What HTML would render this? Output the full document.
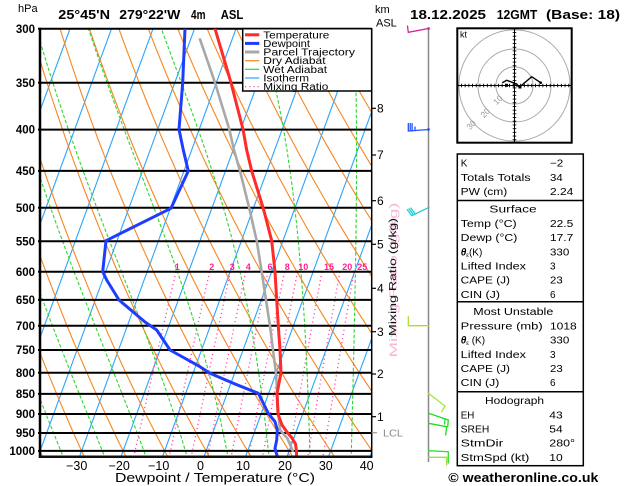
<!DOCTYPE html>
<html><head><meta charset="utf-8">
<style>
html,body{margin:0;padding:0;background:#fff;}
svg{display:block;font-family:"Liberation Sans",sans-serif;}
</style></head>
<body>
<svg id="s" width="629" height="486" viewBox="0 0 629 486" xmlns="http://www.w3.org/2000/svg">
<defs><clipPath id="cp"><rect x="40" y="28.7" width="331.7" height="428"/></clipPath></defs>
<rect x="0" y="0" width="629" height="486" fill="#fff"/>
<g id="grid" clip-path="url(#cp)"></g>

<!-- pressure lines -->
<g stroke="#000" stroke-width="2">
<line x1="38" y1="28.7" x2="371.7" y2="28.7"/>
<line x1="38" y1="82.7" x2="371.7" y2="82.7"/>
<line x1="38" y1="129.6" x2="371.7" y2="129.6"/>
<line x1="38" y1="170.9" x2="371.7" y2="170.9"/>
<line x1="38" y1="207.8" x2="371.7" y2="207.8"/>
<line x1="38" y1="241.3" x2="371.7" y2="241.3"/>
<line x1="38" y1="271.8" x2="371.7" y2="271.8"/>
<line x1="38" y1="299.9" x2="371.7" y2="299.9"/>
<line x1="38" y1="325.8" x2="371.7" y2="325.8"/>
<line x1="38" y1="350.0" x2="371.7" y2="350.0"/>
<line x1="38" y1="372.7" x2="371.7" y2="372.7"/>
<line x1="38" y1="393.9" x2="371.7" y2="393.9"/>
<line x1="38" y1="414.0" x2="371.7" y2="414.0"/>
<line x1="38" y1="433.0" x2="371.7" y2="433.0"/>
<line x1="38" y1="450.9" x2="371.7" y2="450.9"/>
</g>
<g font-size="11.5" font-weight="bold" text-anchor="end" fill="#000">
<text x="35" y="32.8">300</text>
<text x="35" y="86.8">350</text>
<text x="35" y="133.7">400</text>
<text x="35" y="175">450</text>
<text x="35" y="211.9">500</text>
<text x="35" y="245.4">550</text>
<text x="35" y="275.9">600</text>
<text x="35" y="304">650</text>
<text x="35" y="329.9">700</text>
<text x="35" y="354.1">750</text>
<text x="35" y="376.8">800</text>
<text x="35" y="398">850</text>
<text x="35" y="418.1">900</text>
<text x="35" y="437.1">950</text>
<text x="35" y="455">1000</text>
</g>
<text x="18" y="12" font-size="11" fill="#000">hPa</text>

<!-- mixing ratio labels -->
<g font-size="9" font-weight="bold" fill="#ff1f8f" text-anchor="middle">
<text x="177.3" y="270">1</text>
<text x="211.7" y="270">2</text>
<text x="232.3" y="270">3</text>
<text x="248.3" y="270">4</text>
<text x="270" y="270">6</text>
<text x="287.3" y="270">8</text>
<text x="303.3" y="270">10</text>
<text x="329" y="270">15</text>
<text x="347.3" y="270">20</text>
<text x="362.3" y="270">25</text>
</g>

<!-- data series -->
<g clip-path="url(#cp)" fill="none" stroke-linejoin="round" stroke-linecap="round">
<polyline stroke="#a8a8a8" stroke-width="2.6" points="200,39.3 215,82.7 229.3,129.3 234,150 240,171 249.3,208.3 256.7,240.7 261.7,271.7 266,300 270,326 274,358 276,373.3 277.3,393.3 278.3,413.3 280,430 287.3,438.3 291.7,448.3 292.7,450.7"/>
<polyline stroke="#1f3dff" stroke-width="3" points="185,28.7 182.7,82.7 179,129.3 183.3,150 188.3,171 171,208.3 106,240.7 102.7,271.7 106.7,280 119,300 145,322 156.7,330 170,350 200,366.7 210,373.3 233.3,383.3 258.3,393.3 261.7,400 268.3,413.3 275,421.7 277.3,430 276.7,440 275,448.3 277.3,456.7"/>
<polyline stroke="#ff2a2a" stroke-width="3" points="215,28.7 231,82.7 243,129.3 246.7,150 251.7,171 263.3,208.3 271.7,240.7 275,271.7 276.7,300 278.3,326 280,350 281,372.7 277,393.7 278,414 282,425 287,432 292,438 295.5,444 296.5,451 296.5,456.7"/>
</g>

<!-- legend -->
<rect x="242.7" y="28.7" width="129" height="62.3" fill="#fff" stroke="#000" stroke-width="1.5"/>
<g stroke-linecap="butt">
<line x1="245" y1="34.8" x2="259.3" y2="34.8" stroke="#ff2a2a" stroke-width="3"/>
<line x1="245" y1="43.4" x2="259.3" y2="43.4" stroke="#1f3dff" stroke-width="3"/>
<line x1="245" y1="52" x2="259.3" y2="52" stroke="#a8a8a8" stroke-width="3"/>
<line x1="245" y1="60.7" x2="259.3" y2="60.7" stroke="#f7861f" stroke-width="1.2"/>
<line x1="245" y1="69.3" x2="259.3" y2="69.3" stroke="#2fd62f" stroke-width="1.2"/>
<line x1="245" y1="78" x2="259.3" y2="78" stroke="#2aa4ff" stroke-width="1.2"/>
<line x1="245" y1="86.6" x2="259.3" y2="86.6" stroke="#ff4aa8" stroke-width="1.3" stroke-dasharray="1.2,3"/>
</g>
<g font-size="10" fill="#000" lengthAdjust="spacingAndGlyphs">
<text x="263.3" y="38.3" textLength="66" lengthAdjust="spacingAndGlyphs">Temperature</text>
<text x="263.3" y="46.9" textLength="46.7" lengthAdjust="spacingAndGlyphs">Dewpoint</text>
<text x="263.3" y="55.5" textLength="91.7" lengthAdjust="spacingAndGlyphs">Parcel Trajectory</text>
<text x="263.3" y="64.2" textLength="62.3" lengthAdjust="spacingAndGlyphs">Dry Adiabat</text>
<text x="263.3" y="72.8" textLength="63.7" lengthAdjust="spacingAndGlyphs">Wet Adiabat</text>
<text x="263.3" y="81.5" textLength="45.7" lengthAdjust="spacingAndGlyphs">Isotherm</text>
<text x="263.3" y="90" textLength="65" lengthAdjust="spacingAndGlyphs">Mixing Ratio</text>
</g>

<!-- axes -->
<line x1="40" y1="27.7" x2="40" y2="457.8" stroke="#000" stroke-width="2.5"/>
<line x1="38.8" y1="456.7" x2="372.5" y2="456.7" stroke="#111" stroke-width="2.5"/>
<line x1="371.7" y1="28" x2="371.7" y2="457" stroke="#000" stroke-width="1.5"/>

<!-- km ticks -->
<g stroke="#000" stroke-width="1.2">
<line x1="371.7" y1="108.3" x2="376" y2="108.3"/>
<line x1="371.7" y1="155" x2="376" y2="155"/>
<line x1="371.7" y1="200.7" x2="376" y2="200.7"/>
<line x1="371.7" y1="244.3" x2="376" y2="244.3"/>
<line x1="371.7" y1="288.3" x2="376" y2="288.3"/>
<line x1="371.7" y1="331.7" x2="376" y2="331.7"/>
<line x1="371.7" y1="374" x2="376" y2="374"/>
<line x1="371.7" y1="416.7" x2="376" y2="416.7"/>
</g>
<line x1="371.7" y1="432.7" x2="377" y2="432.7" stroke="#999" stroke-width="1.2"/>
<g font-size="12" fill="#000">
<text x="377" y="112.5">8</text>
<text x="377" y="159.2">7</text>
<text x="377" y="204.9">6</text>
<text x="377" y="248.5">5</text>
<text x="377" y="292.5">4</text>
<text x="377" y="335.9">3</text>
<text x="377" y="378.2">2</text>
<text x="377" y="420.9">1</text>
</g>
<text x="383" y="436.5" font-size="10" fill="#8a8a8a" textLength="20" lengthAdjust="spacingAndGlyphs">LCL</text>
<text x="375" y="13" font-size="11" fill="#000">km</text>
<text x="376" y="26.7" font-size="11" fill="#000">ASL</text>

<!-- mixing ratio axis label -->
<text transform="translate(397,280) rotate(-90)" text-anchor="middle" font-size="11" fill="#f6b8d8" textLength="155" lengthAdjust="spacingAndGlyphs">Mixing Ratio (g/kg)</text>
<text transform="translate(396,277) rotate(-90)" text-anchor="middle" font-size="10.5" fill="#111" textLength="118" lengthAdjust="spacingAndGlyphs">Mixing Ratio (g/kg)</text>

<!-- bottom labels -->
<g font-size="12.5" fill="#000" text-anchor="middle">
<text x="76.7" y="470">−30</text>
<text x="119.2" y="470">−20</text>
<text x="158.7" y="470">−10</text>
<text x="200.5" y="470">0</text>
<text x="243" y="470">10</text>
<text x="285" y="470">20</text>
<text x="325.8" y="470">30</text>
<text x="366.7" y="470">40</text>
</g>
<text x="115" y="482" font-size="13" fill="#000" textLength="200" lengthAdjust="spacingAndGlyphs">Dewpoint / Temperature (°C)</text>

<!-- titles -->
<g font-size="12.5" font-weight="bold" fill="#000">
<text x="58.3" y="19" textLength="51.7" lengthAdjust="spacingAndGlyphs">25°45'N</text>
<text x="119.3" y="19" textLength="61" lengthAdjust="spacingAndGlyphs">279°22'W</text>
<text x="191" y="19" textLength="14.5" lengthAdjust="spacingAndGlyphs">4m</text>
<text x="220.7" y="19" textLength="22.6" lengthAdjust="spacingAndGlyphs">ASL</text>
<text x="410" y="19" textLength="76" lengthAdjust="spacingAndGlyphs">18.12.2025</text>
<text x="496.7" y="19" textLength="40.6" lengthAdjust="spacingAndGlyphs">12GMT</text>
<text x="546" y="19" textLength="74" lengthAdjust="spacingAndGlyphs">(Base: 18)</text>
</g>

<!-- wind barbs -->
<line x1="428.5" y1="28" x2="428.5" y2="462" stroke="#888" stroke-width="1.5"/>
<g fill="none" stroke-width="1.3" stroke-linecap="round">
<polyline stroke="#d8229a" points="428.5,28.5 408.3,32.3 407.5,26"/>
<polyline stroke="#2255ff" points="428.5,129.5 408.3,131"/>
<g stroke="#2255ff"><line x1="408.3" y1="131" x2="408.3" y2="123.5"/><line x1="410.2" y1="131" x2="410.2" y2="123.5"/><line x1="412.1" y1="131" x2="412.1" y2="123.5"/><line x1="415" y1="130.6" x2="415" y2="127"/></g>
<polyline stroke="#22cccc" points="429,207.3 411.7,215.7 407.3,209.7"/>
<line stroke="#22cccc" x1="413.5" y1="214.8" x2="409" y2="208.8"/>
<line stroke="#22cccc" x1="415.3" y1="214" x2="410.8" y2="208"/>
<polyline stroke="#aadd33" points="429,325.7 408.3,325.7 408.3,316.7"/>
<polyline stroke="#a6e83a" points="428.5,393.3 445,406 441.7,411.7"/>
<polyline stroke="#22dd22" points="428.5,413.3 448.3,420 447.7,426.7"/>
<line stroke="#22dd22" x1="445" y1="419" x2="444.6" y2="424"/>
<polyline stroke="#22dd22" points="428.5,423.3 446.7,426.7 445.7,435"/>
<polyline stroke="#33dd33" points="428.5,450.7 448.3,451.7 448.3,463"/>
<polyline stroke="#99e03a" points="428.5,457.3 446.7,457.3 446.7,465"/>
</g>
<g fill="#2255ff"><circle cx="428.5" cy="129.5" r="1.4"/></g>
<circle cx="428.5" cy="28.5" r="1.4" fill="#d8229a"/>

<!-- hodograph -->
<g fill="none">
<circle cx="514.5" cy="85.5" r="18.6" stroke="#aaa" stroke-width="1"/>
<circle cx="514.5" cy="85.5" r="36.5" stroke="#aaa" stroke-width="1"/>
<circle cx="514.5" cy="85.5" r="55.6" stroke="#aaa" stroke-width="1"/>
<line x1="457.3" y1="85.5" x2="571.7" y2="85.5" stroke="#000" stroke-width="1"/>
<line x1="514.5" y1="28.3" x2="514.5" y2="142.7" stroke="#000" stroke-width="1"/>
<line x1="457.3" y1="85.5" x2="571.7" y2="85.5" stroke="#000" stroke-width="3.6" stroke-dasharray="0.9,2.8"/>
<line x1="514.5" y1="28.3" x2="514.5" y2="142.7" stroke="#000" stroke-width="3.6" stroke-dasharray="0.9,2.8"/>
<rect x="457.3" y="28.3" width="114.4" height="114.4" stroke="#000" stroke-width="2"/>
<polyline stroke="#000" stroke-width="1.4" points="502.3,82.7 506.7,80.3 516.7,84 519.3,87.3 531.7,76.7 540.7,82.7"/>
</g>
<rect x="505" y="83.8" width="3" height="3" fill="#000"/>
<rect x="518.5" y="85.5" width="3" height="3" fill="#000"/>
<circle cx="540.7" cy="82.7" r="1.3" fill="#000"/>
<text x="460" y="37.5" font-size="9" fill="#000">kt</text>
<g font-size="8.5" fill="#9a9a9a" text-anchor="middle">
<text transform="translate(500,102) rotate(-45)">10</text>
<text transform="translate(487.3,115) rotate(-45)">20</text>
<text transform="translate(473.3,127) rotate(-45)">30</text>
</g>

<!-- table -->
<rect x="457.3" y="154" width="126" height="311.7" fill="none" stroke="#000" stroke-width="1.5"/>
<g stroke="#000" stroke-width="1.5">
<line x1="457.3" y1="200.5" x2="583.3" y2="200.5"/>
<line x1="457.3" y1="301.8" x2="583.3" y2="301.8"/>
<line x1="457.3" y1="391.7" x2="583.3" y2="391.7"/>
</g>
<g font-size="10" fill="#000">
<text x="460.7" y="166.7">K</text>
<text x="550" y="166.7" textLength="13.3" lengthAdjust="spacingAndGlyphs">−2</text>
<text x="460.7" y="180.9" textLength="70" lengthAdjust="spacingAndGlyphs">Totals Totals</text>
<text x="550" y="180.9" textLength="12.7" lengthAdjust="spacingAndGlyphs">34</text>
<text x="460.7" y="195.1" textLength="46.6" lengthAdjust="spacingAndGlyphs">PW (cm)</text>
<text x="550" y="195.1" textLength="23.3" lengthAdjust="spacingAndGlyphs">2.24</text>
<text x="489.3" y="212.7" textLength="47.4" lengthAdjust="spacingAndGlyphs">Surface</text>
<text x="460.7" y="226.9" textLength="56" lengthAdjust="spacingAndGlyphs">Temp (°C)</text>
<text x="550" y="226.9" textLength="23.3" lengthAdjust="spacingAndGlyphs">22.5</text>
<text x="460.7" y="241.1" textLength="56.6" lengthAdjust="spacingAndGlyphs">Dewp (°C)</text>
<text x="550" y="241.1" textLength="23.3" lengthAdjust="spacingAndGlyphs">17.7</text>
<text x="460.7" y="255.3"><tspan font-weight="bold" font-style="italic">θ</tspan><tspan font-size="6" dy="1.5">ε</tspan><tspan dy="-1.5">(K)</tspan></text>
<text x="550" y="255.3" textLength="19.3" lengthAdjust="spacingAndGlyphs">330</text>
<text x="460.7" y="269.5" textLength="65.3" lengthAdjust="spacingAndGlyphs">Lifted Index</text>
<text x="550" y="269.5">3</text>
<text x="460.7" y="283.7" textLength="49.3" lengthAdjust="spacingAndGlyphs">CAPE (J)</text>
<text x="550" y="283.7" textLength="12.7" lengthAdjust="spacingAndGlyphs">23</text>
<text x="460.7" y="297.9" textLength="39.3" lengthAdjust="spacingAndGlyphs">CIN (J)</text>
<text x="550" y="297.9">6</text>
<text x="473.3" y="315" textLength="80" lengthAdjust="spacingAndGlyphs">Most Unstable</text>
<text x="460.7" y="329.3" textLength="82" lengthAdjust="spacingAndGlyphs">Pressure (mb)</text>
<text x="550" y="329.3" textLength="26.7" lengthAdjust="spacingAndGlyphs">1018</text>
<text x="460.7" y="343.6"><tspan font-weight="bold" font-style="italic">θ</tspan><tspan font-size="6" dy="1.5">ε</tspan><tspan dy="-1.5"> (K)</tspan></text>
<text x="550" y="343.6" textLength="19.3" lengthAdjust="spacingAndGlyphs">330</text>
<text x="460.7" y="357.9" textLength="65.3" lengthAdjust="spacingAndGlyphs">Lifted Index</text>
<text x="550" y="357.9">3</text>
<text x="460.7" y="372.2" textLength="49.3" lengthAdjust="spacingAndGlyphs">CAPE (J)</text>
<text x="550" y="372.2" textLength="12.7" lengthAdjust="spacingAndGlyphs">23</text>
<text x="460.7" y="386.2" textLength="38.6" lengthAdjust="spacingAndGlyphs">CIN (J)</text>
<text x="550" y="386.2">6</text>
<text x="485" y="404" textLength="59" lengthAdjust="spacingAndGlyphs">Hodograph</text>
<text x="460.7" y="418.3" textLength="13.6" lengthAdjust="spacingAndGlyphs">EH</text>
<text x="549.3" y="418.3" textLength="13.4" lengthAdjust="spacingAndGlyphs">43</text>
<text x="460.7" y="432.5" textLength="28.6" lengthAdjust="spacingAndGlyphs">SREH</text>
<text x="549.3" y="432.5" textLength="13.4" lengthAdjust="spacingAndGlyphs">54</text>
<text x="460.7" y="446.7" textLength="42.6" lengthAdjust="spacingAndGlyphs">StmDir</text>
<text x="549.3" y="446.7" textLength="25.7" lengthAdjust="spacingAndGlyphs">280°</text>
<text x="460.7" y="461" textLength="68.6" lengthAdjust="spacingAndGlyphs">StmSpd (kt)</text>
<text x="549.3" y="461" textLength="13.4" lengthAdjust="spacingAndGlyphs">10</text>
</g>
<text x="448.3" y="482" font-size="13" font-weight="bold" fill="#000" textLength="150" lengthAdjust="spacingAndGlyphs">© weatheronline.co.uk</text>
</svg>
<script>
(function(){
var NS='http://www.w3.org/2000/svg';
var g=document.getElementById('grid');
function Y(p){return 28.7+350.7*Math.log(p/300);}
function X(T,p){return 204+4.15*T+0.3657*(456.7-Y(p));}
function pl(pts,st){var e=document.createElementNS(NS,'polyline');var s=[];for(var i=0;i<pts.length;i++)s.push(pts[i][0].toFixed(2)+','+pts[i][1].toFixed(2));e.setAttribute('points',s.join(' '));e.setAttribute('fill','none');for(var k in st)e.setAttribute(k,st[k]);g.appendChild(e);}
var T,p,pts;
for(T=-140;T<=40;T+=10){pl([[X(T,270),Y(270)],[X(T,1040),Y(1040)]],{stroke:'#2aa4ff','stroke-width':'1.1'});}
for(var th=-50;th<=150;th+=10){pts=[];for(p=270;p<=1040;p+=10){T=(th+273.15)*Math.pow(p/1000,0.2857)-273.15;pts.push([X(T,p),Y(p)]);}pl(pts,{stroke:'#f7861f','stroke-width':'1.1'});}
function es(c){return 6.112*Math.exp(17.67*c/(c+243.5));}
function f(Tk,p){var e=es(Tk-273.15);var rs=0.622*e/(p-e);var Rd=287.04,cp=1005.7,L=2.501e6;return (Rd*Tk+L*rs)/(p*(cp+L*L*rs*0.622/(Rd*Tk*Tk)));}
for(var tw=-45;tw<=45;tw+=10){
 var up=[],Tk=tw+273.15;p=1000;up.push([X(Tk-273.15,p),Y(p)]);
 while(p>270){var dp=-5;var k1=f(Tk,p);var k2=f(Tk+k1*dp,p+dp);Tk+=0.5*(k1+k2)*dp;p+=dp;up.push([X(Tk-273.15,p),Y(p)]);}
 var dn=[];Tk=tw+273.15;p=1000;
 while(p<1040){var d2=5;var a1=f(Tk,p);var a2=f(Tk+a1*d2,p+d2);Tk+=0.5*(a1+a2)*d2;p+=d2;dn.push([X(Tk-273.15,p),Y(p)]);}
 pts=dn.reverse().concat(up);
 pl(pts,{stroke:'#2fd62f','stroke-width':'1.1','stroke-dasharray':'3.5,2'});
}
var ws=[1,2,3,4,6,8,10,15,20,25];
for(var i=0;i<ws.length;i++){var w=ws[i];pts=[];for(p=600;p<=1040;p+=10){var e=w*p/(622+w);var l=Math.log(e/6.112);var Td=243.5*l/(17.67-l);pts.push([X(Td,p),Y(p)]);}pl(pts,{stroke:'#ff4aa8','stroke-width':'1.3','stroke-dasharray':'1.2,3'});}
})();
</script>
</body></html>
